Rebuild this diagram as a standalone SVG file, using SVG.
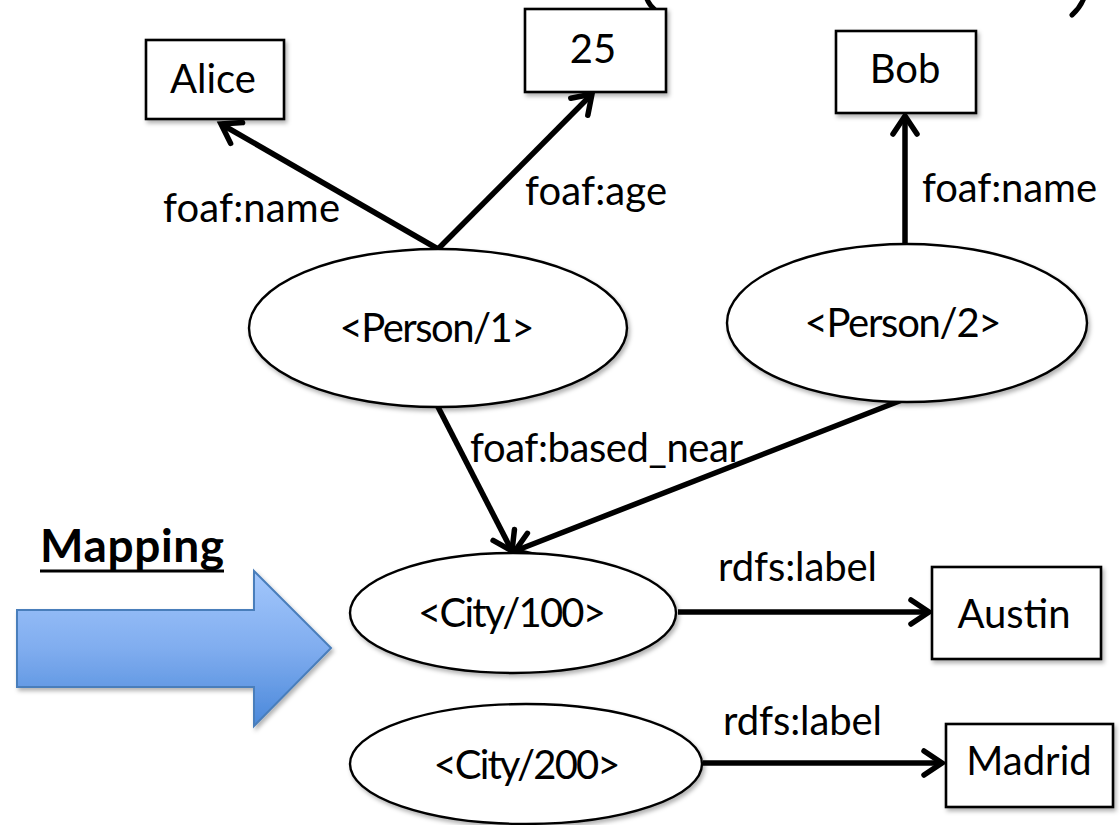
<svg xmlns="http://www.w3.org/2000/svg" width="1120" height="825" viewBox="0 0 1120 825">
  <style>
    .box { fill: #ffffff; stroke: #000000; stroke-width: 2.6; filter: url(#shadow); }
    .node { fill: #ffffff; stroke: #000000; stroke-width: 2.4; filter: url(#shadow); }
    .lbl { font-family: Lato, "Open Sans", "Liberation Sans", sans-serif; font-size: 40px; fill: #000000; }
    .mid { text-anchor: middle; }
    .title { font-family: Lato, "Open Sans", "Liberation Sans", sans-serif; font-size: 46px; font-weight: bold; fill: #000000; }
    .edge { fill: none; stroke: #000000; stroke-width: 5.5; marker-end: url(#head); }
    .brace { fill: none; stroke: #000000; stroke-width: 5; stroke-linecap: round; }
  </style>
  <defs>
    <filter id="shadow" x="-10%" y="-10%" width="130%" height="130%">
      <feDropShadow dx="2" dy="3" stdDeviation="2" flood-color="#000000" flood-opacity="0.3"/>
    </filter>
    <linearGradient id="blue" x1="0" y1="0" x2="0" y2="1">
      <stop offset="0" stop-color="#a3c7fc"/>
      <stop offset="0.5" stop-color="#80adef"/>
      <stop offset="1" stop-color="#4a88da"/>
    </linearGradient>
    <marker id="head" markerUnits="userSpaceOnUse" markerWidth="34" markerHeight="34" viewBox="-26 -17 30 34" refX="0" refY="0" orient="auto">
      <path d="M -18 -12 L 0 0 L -18 12" fill="none" stroke="#000000" stroke-width="5.5" stroke-linecap="round" stroke-linejoin="miter"/>
    </marker>
  </defs>

  <!-- fragments of brackets at the top edge -->
  <path class="brace" d="M 646 -4 Q 648 4 655 10"/>
  <path class="brace" d="M 1084 -2 Q 1080 8 1072 15"/>

  <!-- connectors -->
  <g id="connectors">
    <line class="edge" x1="438" y1="249" x2="221" y2="124"/>
    <line class="edge" x1="438" y1="249" x2="592" y2="94"/>
    <line class="edge" x1="905" y1="245" x2="905" y2="116"/>
    <line class="edge" x1="437" y1="405" x2="512" y2="551"/>
    <line class="edge" x1="902" y1="400" x2="515" y2="551"/>
    <line class="edge" x1="678" y1="612" x2="929" y2="612"/>
    <line class="edge" x1="703" y1="763" x2="942" y2="763"/>
  </g>

  <!-- edge labels -->
  <g id="edge-labels">
    <text class="lbl" x="163" y="222" textLength="177">foaf:name</text>
    <text class="lbl" x="525" y="205" textLength="142">foaf:age</text>
    <text class="lbl" x="922" y="202" textLength="175">foaf:name</text>
    <text class="lbl" x="470" y="462" textLength="273">foaf:based_near</text>
    <text class="lbl" x="718" y="581" textLength="159">rdfs:label</text>
    <text class="lbl" x="723" y="735" textLength="159">rdfs:label</text>
  </g>

  <!-- literal nodes -->
  <g id="alice">
    <rect class="box" x="146" y="40" width="138" height="79"/>
    <text class="lbl mid" x="213" y="93">Alice</text>
  </g>
  <g id="age25">
    <rect class="box" x="525" y="9" width="141" height="83"/>
    <text class="lbl mid" x="593" y="63">25</text>
  </g>
  <g id="bob">
    <rect class="box" x="836" y="31" width="140" height="82"/>
    <text class="lbl mid" x="905" y="83">Bob</text>
  </g>
  <g id="austin">
    <rect class="box" x="932" y="567" width="169" height="92"/>
    <text class="lbl mid" x="1014" y="628">Austin</text>
  </g>
  <g id="madrid">
    <rect class="box" x="946" y="724" width="167" height="83"/>
    <text class="lbl mid" x="1029" y="775">Madrid</text>
  </g>

  <!-- resource nodes -->
  <g id="person1">
    <ellipse class="node" cx="438" cy="328" rx="189" ry="79"/>
    <text class="lbl mid" x="437" y="342" textLength="195">&lt;Person/1&gt;</text>
  </g>
  <g id="person2">
    <ellipse class="node" cx="907" cy="323" rx="180" ry="79"/>
    <text class="lbl mid" x="903" y="337" textLength="197">&lt;Person/2&gt;</text>
  </g>
  <g id="city100">
    <ellipse class="node" cx="513" cy="613" rx="163" ry="60"/>
    <text class="lbl mid" x="512" y="627" textLength="188">&lt;City/100&gt;</text>
  </g>
  <g id="city200">
    <ellipse class="node" cx="526" cy="764" rx="176" ry="60"/>
    <text class="lbl mid" x="527" y="779" textLength="187">&lt;City/200&gt;</text>
  </g>

  <!-- mapping indicator -->
  <g id="mapping">
    <text class="title" x="40" y="562" textLength="184">Mapping</text>
    <line x1="40" y1="571" x2="224" y2="571" stroke="#000000" stroke-width="3"/>
    <polygon points="17,610 254,610 254,571 331,648 254,726 254,687 17,687" fill="url(#blue)" stroke="#4a7ebb" stroke-width="2" filter="url(#shadow)"/>
  </g>
</svg>
